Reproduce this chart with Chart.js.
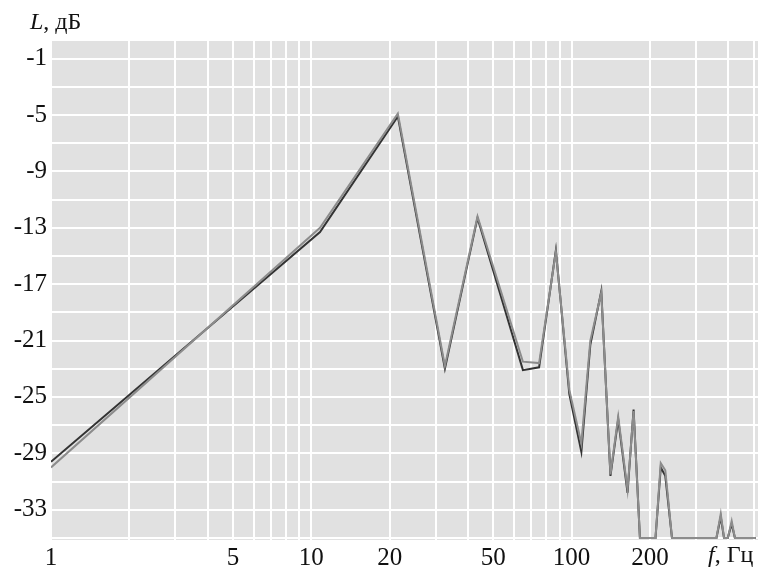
<!DOCTYPE html>
<html>
<head>
<meta charset="utf-8">
<script src="https://cdn.jsdelivr.net/npm/chart.js@4"></script>
<style>
    body { margin: 0; background: #fff; }
    #wrap { position: relative; width: 764px; height: 574px; }
    .axis-title { position: absolute; font-family: "Liberation Serif", "Times New Roman", serif; font-size: 24px; color: #111; white-space: nowrap; }
    .axis-title i { font-style: italic; }
</style>
</head>
<body>
<div id="wrap">
    <canvas id="spectrumChart" width="764" height="574"></canvas>
    <div class="axis-title" style="left: 30px; top: 8px;"><i>L</i>, дБ</div>
    <div class="axis-title" style="left: 708px; top: 541px;"><i>f</i>, Гц</div>
</div>
<script>
// frequency points, Hz
const freqs = [1, 10.8, 21.5, 32.6, 43.5, 65, 75, 87, 98, 109, 118, 130, 141, 151, 164, 173, 183, 210, 220, 229, 243, 360, 374, 385, 398, 412, 424, 510];
// level, dB (two measurements)
const levelDark = [-29.6, -13.3, -5.1, -23.0, -12.3, -23.1, -22.9, -14.6, -24.8, -28.9, -21.3, -17.5, -30.6, -26.6, -31.8, -25.9, -35, -35, -30.0, -30.6, -35, -35, -33.5, -35, -35, -34.0, -35, -35];
const levelLight = [-30.0, -13.0, -4.9, -22.8, -12.2, -22.5, -22.6, -14.7, -24.5, -28.3, -21.0, -17.6, -30.5, -26.4, -31.6, -26.0, -35, -35, -29.7, -30.2, -35, -35, -33.3, -35, -35, -33.8, -35, -35];

// grid lines and tick labels
const xGrid = [1, 2, 3, 4, 5, 6, 7, 8, 9, 10, 20, 30, 40, 50, 60, 70, 80, 90, 100, 200, 300, 400, 500];
const xLabels = [1, 5, 10, 20, 50, 100, 200];
const yGrid = [-1, -3, -5, -7, -9, -11, -13, -15, -17, -19, -21, -23, -25, -27, -29, -31, -33, -35];
const yLabels = [-1, -5, -9, -13, -17, -21, -25, -29, -33];

const plotBackground = {
    id: 'plotBackground',
    beforeDraw(chart) {
        const { ctx, chartArea } = chart;
        ctx.save();
        ctx.fillStyle = '#e1e1e1';
        ctx.fillRect(chartArea.left, chartArea.top, chartArea.right - chartArea.left, chartArea.bottom - chartArea.top);
        ctx.restore();
    }
};

const tickFont = { family: '"Liberation Serif", "Times New Roman", serif', size: 25 };

new Chart(document.getElementById('spectrumChart'), {
    type: 'line',
    data: {
        datasets: [{
            label: 'light',
            data: freqs.map((f, i) => ({ x: f, y: levelLight[i] })),
            borderColor: '#8c8c8c',
            borderWidth: 2,
            pointRadius: 0,
            tension: 0
        }, {
            label: 'dark',
            data: freqs.map((f, i) => ({ x: f, y: levelDark[i] })),
            borderColor: '#333333',
            borderWidth: 2,
            pointRadius: 0,
            tension: 0
        }]
    },
    options: {
        responsive: false,
        animation: false,
        layout: { padding: { top: 41, right: 6, left: 0, bottom: 0 } },
        scales: {
            x: {
                type: 'logarithmic',
                min: 1,
                max: 520,
                afterBuildTicks(scale) {
                    scale.ticks = xGrid.map(v => ({ value: v }));
                },
                afterFit(scale) { scale.height = 34; },
                ticks: {
                    autoSkip: false,
                    maxRotation: 0,
                    padding: 3,
                    color: '#111',
                    font: tickFont,
                    callback: v => xLabels.includes(v) ? String(v) : ''
                },
                grid: { color: '#ffffff', lineWidth: 2, drawTicks: false },
                border: { display: false }
            },
            y: {
                min: -35.15,
                max: 0.25,
                afterBuildTicks(scale) {
                    scale.ticks = yGrid.map(v => ({ value: v }));
                },
                afterFit(scale) { scale.width = 51; },
                ticks: {
                    autoSkip: false,
                    padding: 4,
                    color: '#111',
                    font: tickFont,
                    callback: v => yLabels.includes(v) ? String(v) : ''
                },
                grid: { color: '#ffffff', lineWidth: 2, drawTicks: false },
                border: { display: false }
            }
        },
        plugins: {
            legend: { display: false },
            tooltip: { enabled: false }
        }
    },
    plugins: [plotBackground]
});
</script>
</body>
</html>
